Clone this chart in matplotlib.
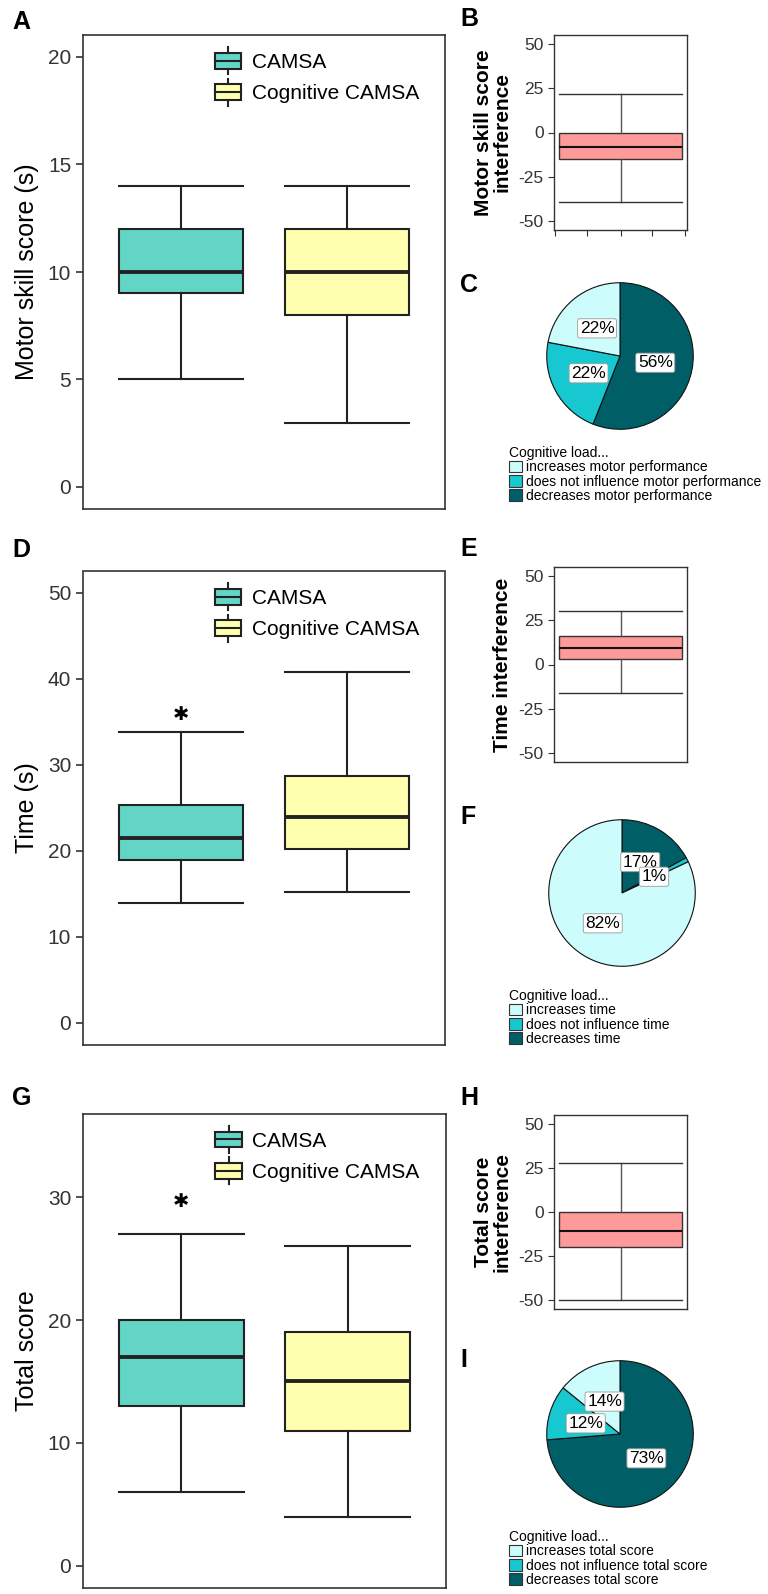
import matplotlib
matplotlib.use('Agg')
import matplotlib.pyplot as plt
from matplotlib.patches import Rectangle, Patch
from matplotlib.lines import Line2D
from matplotlib.legend_handler import HandlerBase

plt.rcParams['font.family'] = ['Liberation Sans', 'DejaVu Sans']
plt.rcParams['axes.unicode_minus'] = False

# box stats: whislo, q1, med, q3, whishi
motor_camsa = [5, 9, 10, 12, 14]
motor_cog = [3, 8, 10, 12, 14]
time_camsa = [14, 18.9, 21.5, 25.3, 33.8]
time_cog = [15.2, 20.2, 23.9, 28.7, 40.8]
total_camsa = [6, 13, 17, 20, 27]
total_cog = [4, 11, 15, 19, 26]

motor_interf = [-39, -15, -8, 0, 22]
time_interf = [-16, 3, 9.5, 16, 30]
total_interf = [-50, -20, -11, 0, 28]

# pie shares (decreases, no influence, increases)
motor_pie = [56, 22, 22]
time_pie = [17, 1, 82]
total_pie = [73, 12, 14]
motor_pie_labels = ['decreases motor performance', 'does not influence motor performance', 'increases motor performance']
time_pie_labels = ['decreases time', 'does not influence time', 'increases time']
total_pie_labels = ['decreases total score', 'does not influence total score', 'increases total score']

group_names = ['CAMSA', 'Cognitive CAMSA']
group_colors = ['#63D5C7', '#FFFFB0']
pie_colors = ['#005F66', '#17C8D0', '#CCFCFC']
pink = '#FF9A9A'
frame_col = '#333333'

W, H = 768, 1594
fig = plt.figure(figsize=(W / 100, H / 100), dpi=100)


def px_axes(l, t, r, b):
    return fig.add_axes([l / W, 1 - b / H, (r - l) / W, (b - t) / H])


def to_stats(v):
    return dict(whislo=v[0], q1=v[1], med=v[2], q3=v[3], whishi=v[4], fliers=[])


class BoxHandler(HandlerBase):
    def create_artists(self, legend, orig_handle, xdescent, ydescent, width, height, fontsize, trans):
        x0, y0 = -xdescent, -ydescent
        fc = orig_handle.get_facecolor()
        r = Rectangle((x0, y0), width, height, facecolor=fc, edgecolor='#222222', lw=1.5, transform=trans)
        mid = Line2D([x0, x0 + width], [y0 + height / 2] * 2, color='#222222', lw=1.5, transform=trans)
        up = Line2D([x0 + width / 2] * 2, [y0 + height, y0 + height + 4], color='#222222', lw=1.5, transform=trans)
        dn = Line2D([x0 + width / 2] * 2, [y0 - 4, y0], color='#222222', lw=1.5, transform=trans)
        return [r, mid, up, dn]


def main_panel(rect, a, b, ylim, yticks, ylabel, star=None):
    ax = px_axes(*rect)
    bp = ax.bxp([to_stats(a), to_stats(b)], positions=[1, 2], widths=0.75, capwidths=0.75,
                patch_artist=True, showfliers=False,
                boxprops=dict(edgecolor='#222222', lw=1.5),
                whiskerprops=dict(color='#222222', lw=1.5),
                capprops=dict(color='#222222', lw=1.5),
                medianprops=dict(color='#222222', lw=2.8))
    for p, c in zip(bp['boxes'], group_colors):
        p.set_facecolor(c)
    ax.set_xlim(0.41, 2.59)
    ax.set_ylim(*ylim)
    ax.set_yticks(yticks)
    ax.set_xticks([])
    ax.tick_params(axis='y', labelsize=15, colors=frame_col, length=5, width=1.2, labelcolor='#333333')
    for s in ax.spines.values():
        s.set_color(frame_col)
        s.set_linewidth(1.2)
    ax.set_ylabel(ylabel, fontsize=18, labelpad=6)
    handles = [Patch(facecolor=c) for c in group_colors]
    top_frac = 1 - 17.5 / (rect[3] - rect[1])
    ax.legend(handles, group_names, handler_map={Patch: BoxHandler()}, loc='upper left',
              bbox_to_anchor=(0.365, top_frac), frameon=False, fontsize=15, borderpad=0,
              borderaxespad=0, handlelength=1.25, handleheight=0.8, labelspacing=0.58,
              handletextpad=0.5)
    if star is not None:
        ax.text(1, star, '\u2731', ha='center', va='center', fontsize=14, family='DejaVu Sans')
    return ax


def small_panel(rect, v, ylabel, xticks=False):
    ax = px_axes(*rect)
    ax.bxp([to_stats(v)], positions=[0.5], widths=0.92, capwidths=0.92, patch_artist=True,
           showfliers=False,
           boxprops=dict(facecolor=pink, edgecolor='#333333', lw=1.0),
           whiskerprops=dict(color='#555555', lw=1.0),
           capprops=dict(color='#333333', lw=1.0),
           medianprops=dict(color='#111111', lw=1.5))
    ax.set_xlim(0, 1)
    ax.set_ylim(-55, 55)
    ax.set_yticks([-50, -25, 0, 25, 50])
    ax.tick_params(axis='y', labelsize=12.5, colors=frame_col, length=4, labelcolor='#333333')
    if xticks:
        ax.set_xticks([0.008, 0.25, 0.5, 0.74, 0.985])
        ax.set_xticklabels([])
        ax.tick_params(axis='x', colors=frame_col, length=4)
    else:
        ax.set_xticks([])
    for s in ax.spines.values():
        s.set_color(frame_col)
        s.set_linewidth(1.0)
    ax.set_ylabel(ylabel, fontsize=15, fontweight='bold', labelpad=5, linespacing=0.95)
    return ax


def pie_panel(rect, vals, labels, leg_xy):
    ax = px_axes(*rect)
    total = sum(vals)
    wedges, _, autotexts = ax.pie(vals, colors=pie_colors, startangle=90, counterclock=False,
                                  autopct=lambda p: '{:.0f}%'.format(p * total / 100),
                                  pctdistance=0.49, radius=1.0,
                                  wedgeprops=dict(edgecolor='#111111', linewidth=0.8),
                                  textprops=dict(fontsize=12.5))
    for t in autotexts:
        t.set_bbox(dict(facecolor='white', edgecolor='#999999', boxstyle='round,pad=0.12', lw=0.6))
    ax.set_xlim(-1.01, 1.01)
    ax.set_ylim(-1.01, 1.01)
    order = [2, 1, 0]
    fig.legend([Patch(facecolor=pie_colors[i], edgecolor='#333333', lw=0.8) for i in order],
               [labels[i] for i in order], title='Cognitive load...',
               loc='upper left', bbox_to_anchor=(leg_xy[0] / W, 1 - leg_xy[1] / H),
               frameon=False, fontsize=10, title_fontsize=10, alignment='left',
               handlelength=0.95, handleheight=0.95, labelspacing=0.02, handletextpad=0.3,
               borderpad=0, borderaxespad=0)
    return ax


main_panel((83, 35.5, 445, 508.5), motor_camsa, motor_cog, (-1, 21), [0, 5, 10, 15, 20], 'Motor skill score (s)')
main_panel((83, 571.5, 445, 1044.5), time_camsa, time_cog, (-2.5, 52.5), [0, 10, 20, 30, 40, 50], 'Time (s)', star=35.9)
main_panel((83, 1114, 446, 1587.5), total_camsa, total_cog, (-1.75, 36.75), [0, 10, 20, 30], 'Total score', star=29.6)

small_panel((554, 35, 687, 230), motor_interf, 'Motor skill score\ninterference', xticks=True)
small_panel((554, 567, 687, 762), time_interf, 'Time interference')
small_panel((554, 1115, 687, 1309), total_interf, 'Total score\ninterference')

pie_panel((546, 282, 694, 430), motor_pie, motor_pie_labels, (509, 446))
pie_panel((548, 819, 696, 967), time_pie, time_pie_labels, (509, 989))
pie_panel((546, 1360, 694, 1508), total_pie, total_pie_labels, (509, 1530))

for letter, x, y in [('A', 12, 22), ('B', 460, 19), ('C', 460, 285), ('D', 12, 550),
                     ('E', 460, 549), ('F', 460, 817), ('G', 12, 1098), ('H', 460, 1098), ('I', 460, 1360)]:
    fig.text(x / W, 1 - y / H, letter, fontsize=18, fontweight='bold', ha='left', va='center')

fig.savefig('out.png', dpi=100, facecolor='white')
